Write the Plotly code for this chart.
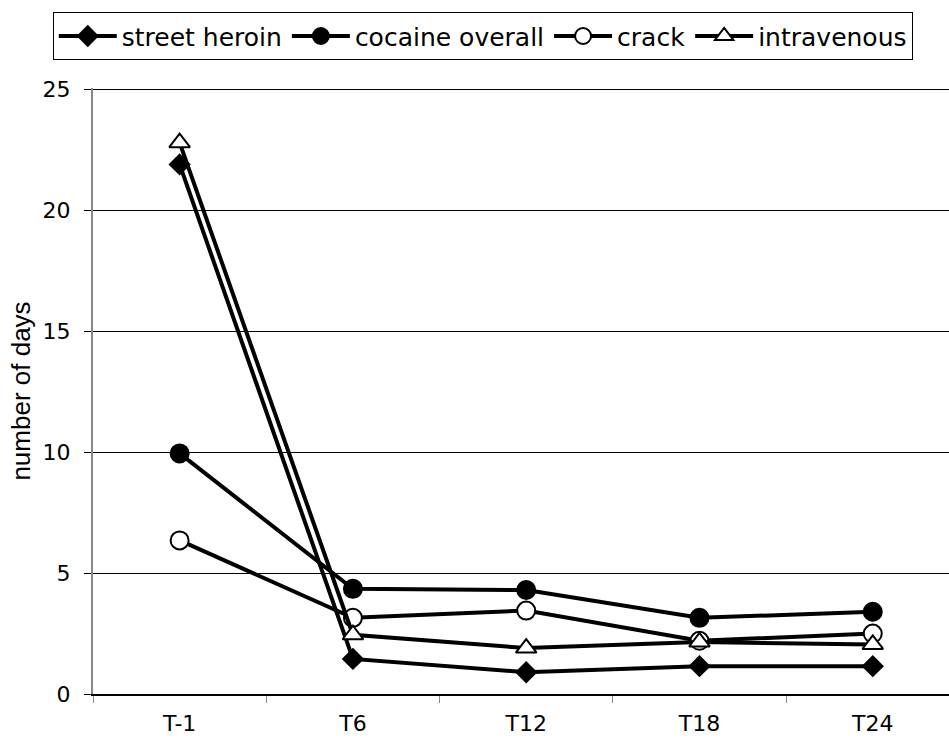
import plotly.graph_objects as go

categories = ["T-1", "T6", "T12", "T18", "T24"]
street_heroin = [21.9, 1.45, 0.9, 1.15, 1.15]
cocaine_overall = [9.95, 4.35, 4.3, 3.15, 3.4]
crack = [6.35, 3.15, 3.45, 2.2, 2.5]
intravenous = [22.8, 2.45, 1.9, 2.15, 2.05]
y_ticks = [0, 5, 10, 15, 20, 25]

series = [
    ("street heroin", street_heroin, "diamond", "black", 15),
    ("cocaine overall", cocaine_overall, "circle", "black", 18),
    ("crack", crack, "circle", "white", 18),
    ("intravenous", intravenous, "triangle-up", "white", 18),
]

fig = go.Figure()
for name, vals, sym, fill, size in series:
    fig.add_trace(go.Scatter(
        x=categories, y=vals, name=name, mode="lines+markers",
        line=dict(color="black", width=4),
        marker=dict(symbol=sym, size=size, color=fill,
                    line=dict(color="black", width=2)),
    ))

fig.update_layout(
    width=949, height=740,
    paper_bgcolor="white", plot_bgcolor="white",
    margin=dict(l=93, r=0, t=88, b=46, autoexpand=False),
    font=dict(family="DejaVu Sans", size=22, color="black"),
    showlegend=True,
    legend=dict(
        orientation="h", x=-0.047, y=1.125, xanchor="left", yanchor="top",
        bordercolor="black", borderwidth=1, bgcolor="white",
        font=dict(family="DejaVu Sans", size=25),
        itemwidth=58, tracegroupgap=0,
    ),
    xaxis=dict(
        type="category", range=[-0.5, 4.44], automargin=False,
        tickson="boundaries", ticks="outside", ticklen=7, tickwidth=1,
        tickcolor="#888888", ticklabelstandoff=9,
        showgrid=False, showline=True, linecolor="black", linewidth=2,
        tickfont=dict(family="DejaVu Sans", size=22),
    ),
    yaxis=dict(
        range=[0, 25.06], tickvals=y_ticks, automargin=False,
        ticks="outside", ticklen=7, tickcolor="black",
        ticklabelstandoff=9,
        showgrid=True, gridcolor="black", gridwidth=1.3,
        showline=True, linecolor="#888888", linewidth=2,
        zeroline=False,
        tickfont=dict(family="DejaVu Sans", size=22),
        title=dict(text="number of days", standoff=4,
                   font=dict(family="Liberation Sans", size=26)),
    ),
)

fig.write_html("out.html")
